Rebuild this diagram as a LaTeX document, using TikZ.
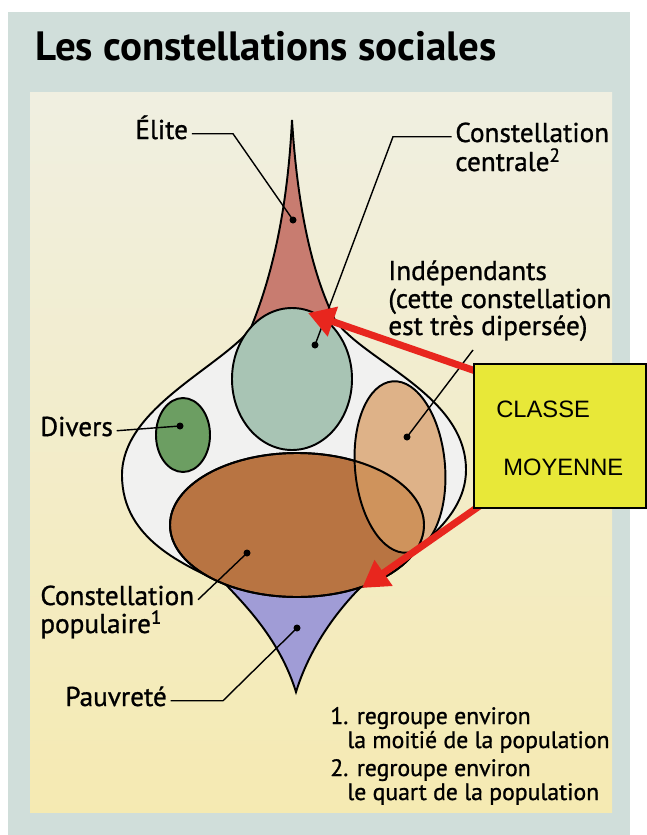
\documentclass[tikz,border=0pt]{standalone}
\usepackage{fontspec}
\setmainfont{PT Sans}
\newfontfamily\medfont{PT Sans}[FakeBold=1.0]
\newfontfamily\boxfont{Liberation Sans}
\usetikzlibrary{arrows.meta}

\definecolor{panel}{RGB}{208,222,218}
\definecolor{creamtop}{RGB}{240,239,225}
\definecolor{creambottom}{RGB}{245,234,178}
\definecolor{blob}{RGB}{241,241,240}
\definecolor{elitecol}{RGB}{200,124,112}
\definecolor{centrecol}{RGB}{168,196,180}
\definecolor{diverscol}{RGB}{108,158,98}
\definecolor{indepcol}{RGB}{216,158,102}
\definecolor{populcol}{RGB}{184,116,66}
\definecolor{pauvcol}{RGB}{160,156,214}
\definecolor{classecol}{RGB}{232,232,56}
\definecolor{arrowred}{RGB}{232,38,30}

\tikzset{
	contour/.style={draw=black, line width=1.1pt},
	leader/.style={black, line width=0.8pt},
	lbl/.style={font=\medfont\fontsize{15.5}{18}\selectfont, anchor=base west,
		inner xsep=2pt, inner ysep=0pt, text height=0.75em, text depth=0.15em},
	notetext/.style={font=\medfont\fontsize{13.5}{16}\selectfont, anchor=base west, inner sep=0pt},
	titletext/.style={font=\bfseries\fontsize{23.3}{27}\selectfont, anchor=base west, inner sep=0pt},
	boxtext/.style={font=\boxfont\fontsize{13.5}{16}\selectfont, anchor=base west, inner sep=0pt},
	redarrow/.style={arrowred, line width=4pt, -{Triangle[length=15pt, width=17pt]}},
	classbox/.style={draw=black, line width=1.2pt, fill=classecol, anchor=north west,
		minimum width=3.44cm, minimum height=2.88cm, inner sep=0pt}
}

\begin{document}
\begin{tikzpicture}[x=0.02cm, y=-0.02cm]
	
	% Tlo
	\fill[white] (0,0) rectangle (646,835);
	\useasboundingbox (0,0) rectangle (646,835);
	\fill[panel] (8,12) rectangle (630,835);
	\shade[top color=creamtop, bottom color=creambottom] (30,92) rectangle (612,812);
	
	% Tytul
	\node[titletext] (title) at (35,60) {Les constellations sociales};
	
	% Kontur
	\def\contourpath{(292,120) .. controls (297,200) and (310,270) .. (335,320)
		.. controls (365,362) and (466,395) .. (466,470)
		.. controls (466,525) and (400,560) .. (360.5,587.35)
		.. controls (345,603) and (312,640) .. (296,692)
		.. controls (280,640) and (245,605) .. (226,584.7)
		.. controls (185,565) and (122,540) .. (122,475)
		.. controls (122,410) and (215,370) .. (250,330)
		.. controls (275,270) and (288,200) .. (292,120) -- cycle}
	
	\begin{scope}
		\clip \contourpath;
		\fill[blob] (0,0) rectangle (646,835);
		\fill[elitecol] (200,100) rectangle (400,322);
	\end{scope}
	
	% Pauvrete
	\fill[pauvcol] (226,584.7) arc[start angle=124, end angle=60, x radius=127, y radius=72]
	.. controls (345,603) and (312,640) .. (296,692)
	.. controls (280,640) and (245,605) .. cycle;
	
	\draw[contour] \contourpath;
	
	% Constellations
	\filldraw[contour, fill=centrecol] (292,379) ellipse (60 and 71);
	\filldraw[contour, fill=diverscol] (183,435) ellipse (27 and 37);
	\filldraw[contour, fill=populcol] (297,525) ellipse (127 and 72);
	\filldraw[
	contour,
	fill=indepcol,
	fill opacity=0.75,
	rotate around={5:(400,467)}
	]
	(400,467) ellipse (45 and 86);
	\draw[contour] (297,525) ellipse (127 and 72);
	
	% Points
	\coordinate (eliteDot) at (293,220);
	\coordinate (centreDot) at (315,345);
	\coordinate (indepDot) at (407,437);
	\coordinate (diversDot) at (180,426);
	\coordinate (populDot) at (247,553);
	\coordinate (pauvDot) at (297,628);
	\foreach \p in {eliteDot,centreDot,indepDot,diversDot,populDot,pauvDot}
	\fill (\p) circle (3.5);
	
	% Etiquettes
	\node[lbl] (elite) at (131.5,139) {Élite};
	\node[lbl] (centre1) at (451.5,142) {Constellation};
	\node[lbl] (centre2) at (451.5,171) {centrale\textsuperscript{2}};
	\node[lbl] (indep1) at (384.5,280) {Indépendants};
	\node[lbl] (indep2) at (384.5,308) {(cette constellation};
	\node[lbl] (indep3) at (384.5,335) {est très dipersée)};
	\node[lbl] (divers) at (36.5,436) {Divers};
	\node[lbl] (popul1) at (36.5,605) {Constellation};
	\node[lbl] (popul2) at (36.5,633) {populaire\textsuperscript{1}};
	\node[lbl] (pauv) at (61.5,706) {Pauvreté};
	
	% Traits
	\coordinate (eliteBend) at (233,131);
	\coordinate (centreBend) at (393,133);
	\coordinate (indepEnd) at (473,350);
	\coordinate (pauvBend) at (223,700);
	\draw[leader] (elite.east) -- (elite.east -| eliteBend) -- (eliteDot);
	\draw[leader] (centre1.west) -- (centre1.west -| centreBend) -- (centreDot);
	\draw[leader] (indepEnd) -- (indepDot);
	\draw[leader] (divers.east) -- (diversDot);
	\draw[leader] (popul1.east) -- (populDot);
	\draw[leader] (pauv.east) -- (pauv.east -| pauvBend) -- (pauvDot);
	
	% Notes
	\node[notetext] (note1a) at (330,724) {1. regroupe environ};
	\node[notetext] (note1b) at (347,748) {la moitié de la population};
	\node[notetext] (note2a) at (330,776) {2. regroupe environ};
	\node[notetext] (note2b) at (347,800) {le quart de la population};
	
	% Classe moyenne
	\coordinate (arrowStartA) at (490,376);
	\coordinate (arrowStartB) at (488,500);
	\coordinate (centreTip) at (308,313);
	\coordinate (populTip) at (362,588);
	\draw[redarrow] (arrowStartA) -- (centreTip);
	\draw[redarrow] (arrowStartB) -- (populTip);
	
	\node[classbox] (classe) at (473,363) {};
	\node[boxtext] (classe1) at (496,417) {CLASSE};
	\node[boxtext] (classe2) at (503,475) {MOYENNE};
	
\end{tikzpicture}
\end{document}
